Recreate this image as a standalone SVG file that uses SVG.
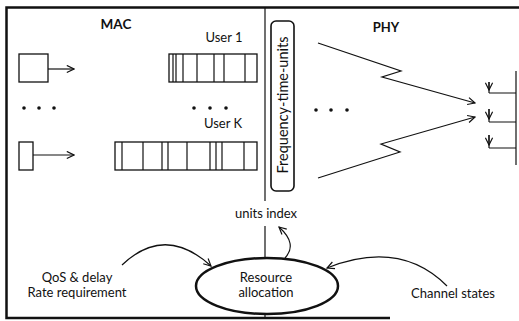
<svg xmlns="http://www.w3.org/2000/svg" width="519" height="321" viewBox="0 0 519 321">
<defs>
<style>
.t{font-family:Lato,"Open Sans",sans-serif;fill:#111;}
.b{font-weight:bold;}
.ln{stroke:#111;fill:none;stroke-width:1.2;}
.q{stroke:#111;fill:#fff;stroke-width:1.3;}
</style>
<marker id="ah" viewBox="0 0 10 10" refX="9" refY="5" markerWidth="9" markerHeight="9" orient="auto" markerUnits="userSpaceOnUse">
<path d="M1,1 L9,5 L1,9" fill="none" stroke="#111" stroke-width="1.3"/>
</marker>
</defs>
<rect width="519" height="321" fill="#fff"/>
<g id="frame">
<path d="M519,7.5 L6.5,7.5 L6.5,318 L390,318" fill="none" stroke="#111" stroke-width="2.5"/>
<line x1="265" y1="7" x2="265" y2="201" class="ln"/>
<line x1="265" y1="226" x2="265" y2="318" class="ln"/>
</g>
<g id="labels">
<text class="t b" x="116" y="29" font-size="13.5" text-anchor="middle">MAC</text>
<text class="t b" x="386" y="32" font-size="13" text-anchor="middle">PHY</text>
<text class="t" x="224" y="42" font-size="13" text-anchor="middle">User 1</text>
<text class="t" x="223" y="128" font-size="13" text-anchor="middle">User K</text>
</g>
<g id="source1">
<rect x="19" y="54" width="29" height="28" class="q"/>
</g>
<g id="sourceK">
<rect x="19" y="142" width="14" height="28" class="q"/>
</g>
<g id="queue1">
<rect x="169" y="54" width="88" height="28" class="q"/>
<path class="ln" d="M173,54V82M176,54V82M183,54V82M197,54V82M214,54V82M224,54V82M245,54V82"/>
</g>
<g id="queueK">
<rect x="115" y="142" width="142" height="28" class="q"/>
<path class="ln" d="M122,142V170M143,142V170M162,142V170M168,142V170M187,142V170M210,142V170M216,142V170M222,142V170M244,142V170"/>
</g>
<g id="dots" fill="#111">
<circle cx="24" cy="108" r="1.8"/><circle cx="39" cy="108" r="1.8"/><circle cx="54" cy="108" r="1.8"/>
<circle cx="194" cy="108" r="1.8"/><circle cx="210" cy="108" r="1.8"/><circle cx="226" cy="108" r="1.8"/>
<circle cx="316" cy="110" r="1.8"/><circle cx="331" cy="110" r="1.8"/><circle cx="347" cy="110" r="1.8"/>
</g>
<g id="ftunits">
<rect x="271" y="21" width="23" height="170" rx="5" ry="5" fill="#fff" stroke="#111" stroke-width="1.6"/>
<text class="t" x="0" y="0" font-size="14.5" text-anchor="middle" transform="translate(287.5,105) rotate(-90)">Frequency-time-units</text>
</g>
<g id="receiver">
<path class="ln" d="M516,71V165M489,93H516M489,122H516M489,148H516"/>
</g>
<g id="resource">
<ellipse cx="267" cy="286" rx="71" ry="28" fill="#fff" stroke="#111" stroke-width="2.5"/>
<text class="t" x="266" y="282" font-size="13" text-anchor="middle">Resource</text>
<text class="t" x="266" y="297" font-size="13" text-anchor="middle">allocation</text>
</g>
<g id="texts">
<text class="t" x="266" y="218" font-size="13" text-anchor="middle">units index</text>
<text class="t" x="77" y="282" font-size="13" text-anchor="middle">QoS &amp; delay</text>
<text class="t" x="77" y="297" font-size="13" text-anchor="middle">Rate requirement</text>
<text class="t" x="453" y="298" font-size="13" text-anchor="middle">Channel states</text>
</g>
<g id="connectors" class="ln">
<line x1="48" y1="69" x2="74" y2="69" marker-end="url(#ah)"/>
<line x1="33" y1="155" x2="74" y2="155" marker-end="url(#ah)"/>
<path d="M318,43 L401,71 L382,77 L475,103" marker-end="url(#ah)"/>
<path d="M318,178 L400,152 L381,144 L475,117" marker-end="url(#ah)"/>
<path d="M489,82V93" />
<path d="M489,82V90" marker-end="url(#ah)"/>
<path d="M489,109V122"/>
<path d="M489,109V119" marker-end="url(#ah)"/>
<path d="M489,135V148"/>
<path d="M489,135V145" marker-end="url(#ah)"/>
<path d="M122,265 Q165,224 211,266" marker-end="url(#ah)"/>
<path d="M285,258 Q298,244 279,227" marker-end="url(#ah)"/>
<path d="M447,286 Q400,239 327,268" marker-end="url(#ah)"/>
</g>
</svg>
